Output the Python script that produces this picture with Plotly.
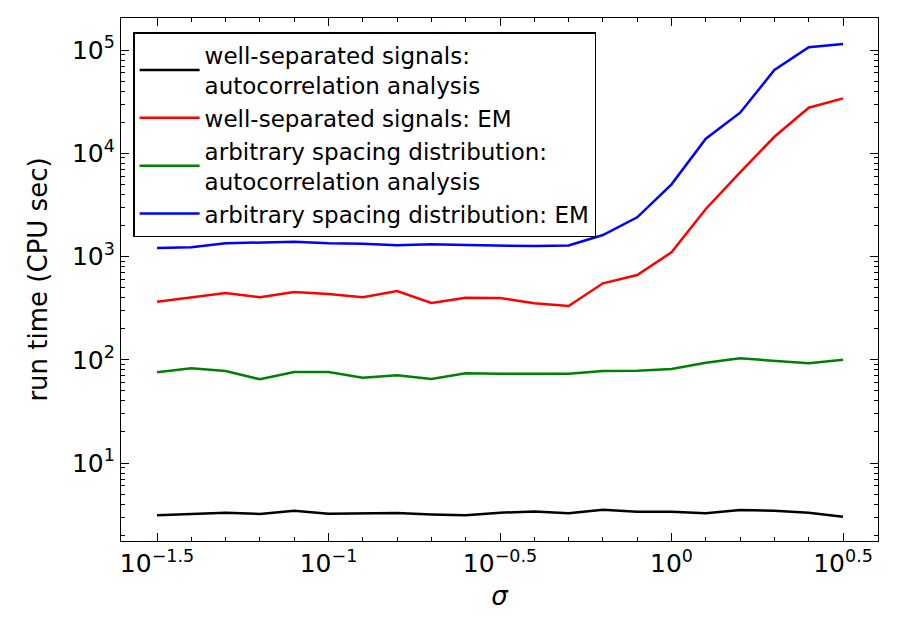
import plotly.graph_objects as go

# sigma sampled at log10 exponents
sigma_exp = [-1.5, -1.4, -1.3, -1.2, -1.1, -1.0, -0.9, -0.8, -0.7, -0.6, -0.5,
             -0.4, -0.3, -0.2, -0.1, 0.0, 0.1, 0.2, 0.3, 0.4, 0.5]
sigma = [10 ** e for e in sigma_exp]

well_sep_autocorr = [3.13, 3.21, 3.30, 3.21, 3.45, 3.23, 3.23, 3.28, 3.18, 3.13, 3.30,
                     3.40, 3.26, 3.53, 3.37, 3.37, 3.26, 3.51, 3.45, 3.30, 3.02]
well_sep_em = [365, 403, 443, 403, 453, 433, 403, 464, 355, 399, 397,
               352, 332, 550, 662, 1099, 2886, 6538, 14450, 27600, 34000]
arb_autocorr = [75.6, 82.6, 77.8, 64.7, 76.2, 76.2, 67.0, 70.7, 65.1, 73.9, 73.3,
                73.3, 73.3, 77.8, 78.3, 81.3, 93.6, 103.2, 97.9, 92.4, 100.2]
arb_em = [1208, 1228, 1343, 1362, 1391, 1343, 1331, 1283, 1312, 1291, 1273,
          1262, 1282, 1614, 2398, 5000, 13830, 24700, 64000, 106200, 114300]

series_names = ["well-separated signals:<br>autocorrelation analysis",
                "well-separated signals: EM",
                "arbitrary spacing distribution:<br>autocorrelation analysis",
                "arbitrary spacing distribution: EM"]
series_values = [well_sep_autocorr, well_sep_em, arb_autocorr, arb_em]
series_colors = ["#000000", "#ff0000", "#008000", "#0000ff"]

x_tick_exp = [-1.5, -1.0, -0.5, 0.0, 0.5]
x_tick_text = ["10<sup>−1.5</sup>", "10<sup>−1</sup>", "10<sup>−0.5</sup>",
               "10<sup>0</sup>", "10<sup>0.5</sup>"]
y_tick_exp = [1, 2, 3, 4, 5]
y_tick_text = ["10<sup>1</sup>", "10<sup>2</sup>", "10<sup>3</sup>",
               "10<sup>4</sup>", "10<sup>5</sup>"]

FONT = "DejaVu Sans"

fig = go.Figure()
for name, vals, col in zip(series_names, series_values, series_colors):
    fig.add_trace(go.Scatter(x=sigma, y=vals, mode="lines", name=name,
                             line=dict(color=col, width=2.5)))

x_minor = [10 ** e for e in sigma_exp]
y_minor = [m * 10 ** d for d in range(0, 6) for m in range(2, 10)]

axis_common = dict(
    showgrid=False, zeroline=False, showline=True, linecolor="black", linewidth=1.3,
    mirror="allticks", ticks="inside", ticklen=8, tickwidth=1.2, tickcolor="black",
    tickfont=dict(family=FONT, size=25, color="black"),
)

fig.update_layout(
    width=898, height=632,
    margin=dict(l=121, r=20, t=18, b=91),
    paper_bgcolor="white", plot_bgcolor="white",
    font=dict(family=FONT, color="black"),
    showlegend=True,
    legend=dict(x=0.016, y=0.973, xanchor="left", yanchor="top",
                bgcolor="white", bordercolor="black", borderwidth=1.5,
                font=dict(family=FONT, size=23, color="black"),
                itemwidth=60, tracegroupgap=0),
    xaxis=dict(type="log", range=[-1.605, 0.602],
               tickmode="array", tickvals=[10 ** e for e in x_tick_exp], ticktext=x_tick_text,
               minor=dict(tickmode="array", tickvals=x_minor, ticks="inside", ticklen=4,
                          tickwidth=1, tickcolor="black"),
               title=dict(text="<i>σ</i>", font=dict(family=FONT, size=26), standoff=9),
               **axis_common),
    yaxis=dict(type="log", range=[0.245, 5.31],
               tickmode="array", tickvals=[10 ** e for e in y_tick_exp], ticktext=y_tick_text,
               minor=dict(tickmode="array", tickvals=y_minor, ticks="inside", ticklen=4,
                          tickwidth=1, tickcolor="black"),
               title=dict(text="run time (CPU sec)", font=dict(family=FONT, size=26), standoff=16),
               **axis_common),
)

fig.write_html("out.html")
